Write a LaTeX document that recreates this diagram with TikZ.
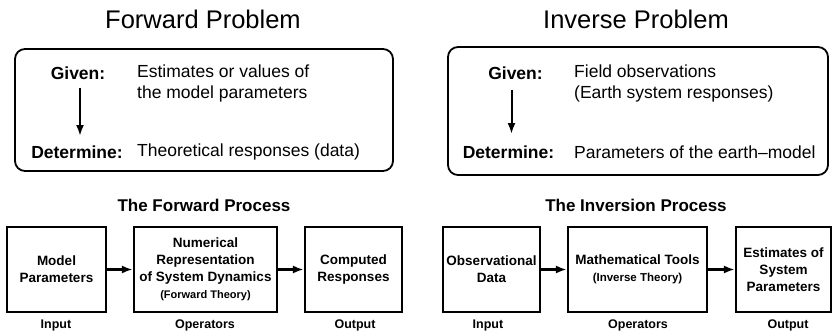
\documentclass[tikz,border=0pt]{standalone}
\usepackage{fontspec}
\setmainfont{Liberation Sans}
\usetikzlibrary{arrows.meta}
\tikzset{>={Latex[length=11pt,width=8pt]}}

\begin{document}
\begin{tikzpicture}[x=1pt,y=-1pt,
	title/.style={font=\fontsize{25.5}{28}\selectfont},
	key/.style={inner sep=0pt,font=\fontsize{17.5}{21}\selectfont\bfseries},
	txt/.style={inner sep=0pt,anchor=west,align=left,font=\fontsize{17.5}{21}\selectfont},
	head/.style={font=\fontsize{17}{20}\selectfont\bfseries},
	box/.style={draw,line width=2.2pt,minimum height=85pt,inner sep=1pt,align=center,font=\fontsize{13.5}{17}\selectfont\bfseries},
	role/.style={font=\fontsize{12.5}{14}\selectfont\bfseries}]
	\useasboundingbox[fill=white] (0,0) rectangle (837,335);

	% Forward Problem
	\node[title] (fwdtitle) at (203,19) {Forward Problem};
	\draw[line width=1.8pt,rounded corners=10pt] (15,49) rectangle (393,171);
	\node[key] (fwdgiven) at (78,73) {Given:};
	\node[key] (fwddet) at (77,152) {Determine:};
	\node[txt] (fwdgtxt) at (137,83.5) {Estimates or values of\\the model parameters};
	\node[txt] (fwddtxt) at (137,152) {Theoretical responses (data)};
	\draw[line width=2pt,->] ([xshift=2pt]fwdgiven.south) ++(0,8) coordinate (fa) -- (fa |- 0,136);

	% Inverse Problem
	\node[title] (invtitle) at (636,19) {Inverse Problem};
	\draw[line width=1.8pt,rounded corners=10pt] (448,47) rectangle (828,175);
	\node[key] (invgiven) at (515.5,73) {Given:};
	\node[key] (invdet) at (508.5,152) {Determine:};
	\node[txt] (invgtxt) at (574,83.5) {Field observations\\(Earth system responses)};
	\node[txt] (invdtxt) at (574,152) {Parameters of the earth--model};
	\draw[line width=2pt,->] ([xshift=-4pt]invgiven.south) ++(0,10) coordinate (ia) -- (ia |- 0,134);

	% The Forward Process
	\node[head] (fwdhead) at (204,205) {The Forward Process};
	\node[box,minimum width=99pt] (fb1) at (56.5,269.5) {Model\\Parameters};
	\node[box,minimum width=143pt] (fb2) at (205.5,269.5) {Numerical\\Representation\\of System Dynamics\\{\fontsize{11}{17}\selectfont(Forward Theory)}};
	\node[box,minimum width=97pt] (fb3) at (353.5,269.5) {Computed\\Responses};
	\draw[line width=2.2pt,->] (fb1) -- (fb2);
	\draw[line width=2.2pt,->] (fb2) -- (fb3);
	\node[role] (fin) at (56,325) {Input};
	\node[role] (fop) at (205,325) {Operators};
	\node[role] (fout) at (355,325) {Output};

	% The Inversion Process
	\node[head] (invhead) at (636,205) {The Inversion Process};
	\node[box,minimum width=97pt] (ib1) at (491.5,269.5) {Observational\\Data};
	\node[box,minimum width=139pt] (ib2) at (637.5,269.5) {Mathematical Tools\\{\fontsize{11.5}{15}\selectfont(Inverse Theory)}};
	\node[box,minimum width=95pt] (ib3) at (783.5,269.5) {Estimates of\\System\\Parameters};
	\draw[line width=2.2pt,->] (ib1) -- (ib2);
	\draw[line width=2.2pt,->] (ib2) -- (ib3);
	\node[role] (iin) at (488,325) {Input};
	\node[role] (iop) at (638,325) {Operators};
	\node[role] (iout) at (788,325) {Output};
\end{tikzpicture}
\end{document}
